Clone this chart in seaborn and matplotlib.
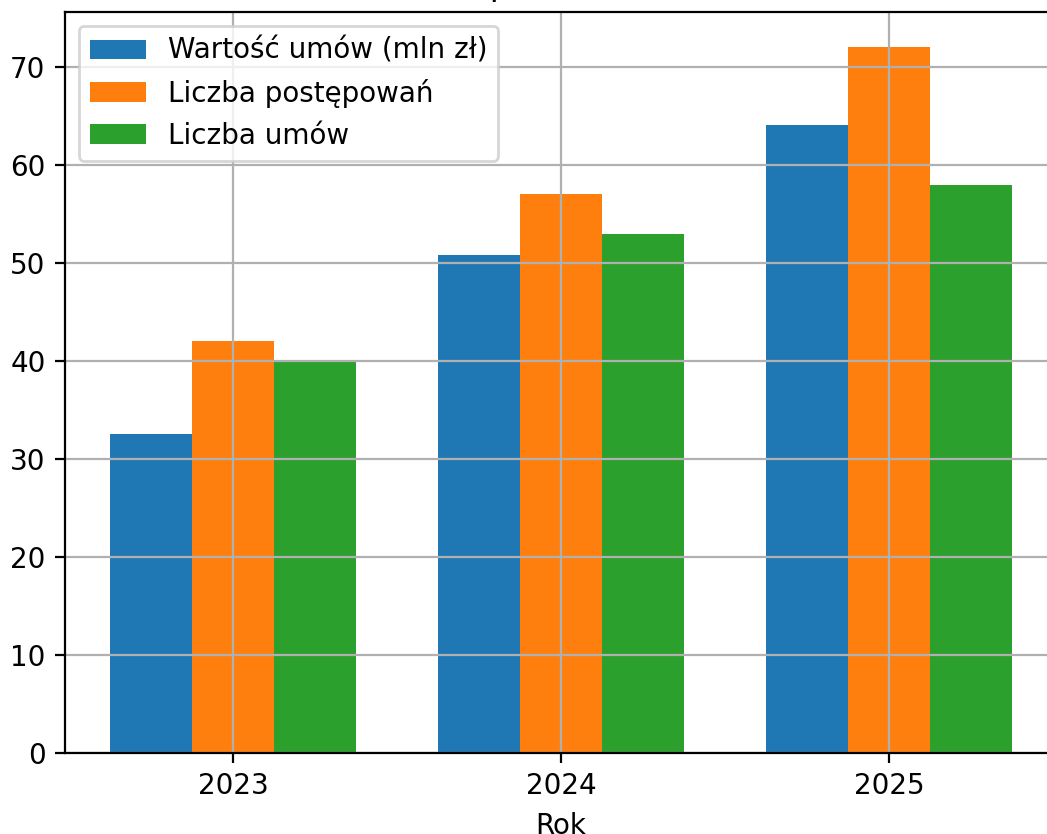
import pandas as pd
import seaborn as sns
import matplotlib.pyplot as plt

# Dane do wykresu
lata = ['2023', '2024', '2025']
wartosc_umow = [32.5, 50.8, 64.1]
liczba_postepowan = [42, 57, 72]
liczba_umow = [40, 53, 58]

serie = ['Wartość umów (mln zł)', 'Liczba postępowań', 'Liczba umów']
kolory = ['#1f77b4', '#ff7f0e', '#2ca02c']

df = pd.DataFrame({
    'Rok': lata * 3,
    'Seria': [serie[0]] * 3 + [serie[1]] * 3 + [serie[2]] * 3,
    'Wartość': wartosc_umow + liczba_postepowan + liczba_umow,
})

dpi = 200
fig = plt.figure(figsize=(1047 / dpi, 834 / dpi), dpi=dpi)
ax = fig.add_axes([65 / 1047, (834 - 753) / 834, (1057 - 65) / 1047, (753 - 12) / 834])

sns.barplot(data=df, x='Rok', y='Wartość', hue='Seria', hue_order=serie,
            palette=kolory, saturation=1, width=0.75, ax=ax)

ax.set_xlim(-0.5125, 2.5125)
ax.set_ylim(0, 75.6)
ax.set_xlabel('Rok')
ax.set_ylabel('')
ax.set_title('Zamówienia publiczne 2023–2025')
ax.grid(True)
ax.legend(loc='upper left', title=None)

fig.savefig('out.png', dpi=dpi)
